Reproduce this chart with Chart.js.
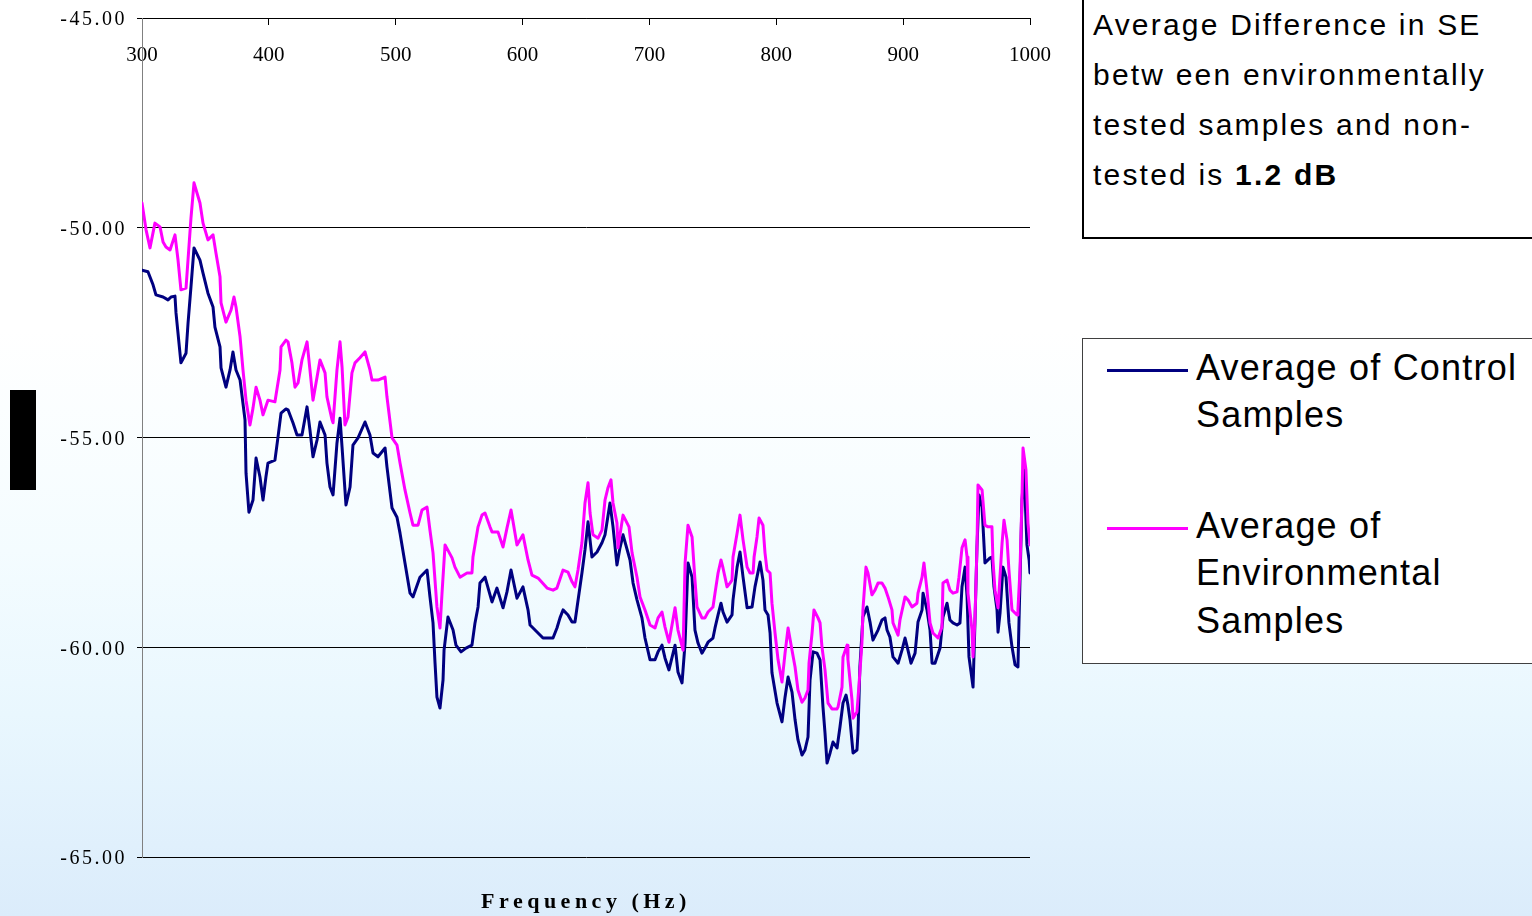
<!DOCTYPE html>
<html>
<head>
<meta charset="utf-8">
<title>Average Control vs Environmental Samples</title>
<script src="https://cdn.jsdelivr.net/npm/chart.js@4/dist/chart.umd.min.js"></script>
<style>
  html, body { margin: 0; padding: 0; }
  #frame {
    position: relative;
    width: 1532px;
    height: 916px;
    overflow: hidden;
    background: linear-gradient(to bottom, #ffffff 0%, #ffffff 36%, #f4fcff 60%, #e9f7fe 78%, #dbecfb 100%);
    font-family: "Liberation Sans", Arial, sans-serif;
  }
  #chart { position: absolute; left: 0; top: 0; }
  #axisBlock {
    position: absolute; left: 10px; top: 390px; width: 26px; height: 100px; background: #000;
  }
  #note {
    position: absolute; left: 1082px; top: -10px; width: 470px; height: 249px;
    box-sizing: border-box; border: 2px solid #000; background: #fff;
    padding: 8px 0 0 9px; font-size: 30px; line-height: 50px; letter-spacing: 2.2px; color: #000;
    white-space: nowrap;
  }
  #legend {
    position: absolute; left: 1082px; top: 338px; width: 470px; height: 326px;
    box-sizing: border-box; border: 1px solid #404040; background: #fff;
  }
  .swatch { position: absolute; left: 24px; width: 81px; height: 3px; }
  .entry-text {
    position: absolute; left: 113px; width: 335px; font-size: 36px; line-height: 47.5px;
    letter-spacing: 1.2px; color: #000;
  }
</style>
</head>
<body>
<div id="frame">
  <canvas id="chart" width="1532" height="916"></canvas>
  <div id="axisBlock"></div>
  <div id="note">Average Difference in SE<br>betw een environmentally<br>tested samples and non-<br>tested is <b>1.2 dB</b></div>
  <div id="legend"></div>
</div>
<script>
// Frequency axis and shielding-effectiveness scale
const freqTicks = [300, 400, 500, 600, 700, 800, 900, 1000];
const dbTicks = [-65, -60, -55, -50, -45];

const seriesNames = ['Average of Control Samples', 'Average of Environmental Samples'];
const seriesColors = ['#000080', '#ff00ff'];

// Average of Control Samples: frequency (Hz) / level (dB)
const controlFreq = [
  300, 304.7, 308.7, 311.0, 316.6, 320.5, 322.9, 326.0, 326.8, 330.7,
  334.7, 336.3, 338.6, 341.0, 345.7, 348.1, 352.0, 356.0, 357.5, 361.5,
  362.3, 366.2, 369.4, 371.7, 374.1, 377.3, 381.2, 382.0, 384.3, 387.5,
  389.9, 393.0, 395.4, 397.7, 399.3, 404.8, 407.2, 409.6, 413.5, 415.1,
  419.0, 422.2, 426.1, 430.1, 432.4, 434.8, 438.0, 440.3, 444.3, 445.8,
  448.2, 450.6, 453.7, 456.1, 457.7, 460.8, 464.0, 466.3, 470.3, 475.8,
  479.7, 482.1, 486.0, 491.6, 493.1, 497.1, 501.0, 503.4, 507.3, 511.3,
  513.6, 519.1, 524.7, 527.0, 529.4, 531.0, 532.5, 534.9, 537.3, 538.1,
  541.2, 545.2, 547.5, 551.5, 555.4, 560.1, 562.5, 564.9, 566.4, 570.4,
  575.9, 579.8, 584.6, 587.7, 590.9, 595.6, 600.3, 604.3, 605.9, 616.1,
  624.0, 627.1, 629.5, 631.9, 635.8, 639.0, 641.3, 642.9, 646.8, 649.2,
  651.6, 654.7, 658.7, 662.6, 665.0, 668.9, 671.3, 674.4, 676.8, 679.2,
  684.7, 687.1, 690.2, 694.1, 696.5, 700.5, 704.4, 706.8, 709.9, 712.3,
  715.4, 720.2, 722.5, 725.7, 728.1, 730.4, 733.6, 735.9, 738.3, 741.4,
  743.8, 746.2, 750.1, 751.7, 754.1, 756.4, 758.0, 761.2, 765.1, 765.9,
  769.1, 771.4, 773.8, 777.0, 780.9, 783.2, 787.2, 789.5, 791.1, 793.5,
  795.1, 796.6, 800.6, 804.5, 806.9, 809.3, 812.4, 814.8, 817.1, 820.3,
  822.6, 825.0, 826.6, 829.0, 832.1, 834.5, 836.8, 838.4, 840.0, 842.4,
  844.7, 847.9, 850.2, 852.6, 855.0, 856.5, 858.1, 860.5, 863.6, 864.4,
  865.9, 868.3, 871.5, 873.9, 876.2, 880.2, 883.3, 885.7, 887.3, 889.6,
  892.0, 896.0, 899.1, 901.5, 903.8, 906.2, 909.4, 911.7, 914.9, 915.7,
  918.8, 921.2, 922.8, 925.1, 929.1, 931.4, 934.6, 936.9, 939.3, 942.5,
  944.8, 946.4, 948.8, 950.4, 951.9, 955.1, 956.6, 958.2, 959.8, 962.2,
  964.5, 968.5, 970.0, 971.6, 974.0, 974.8, 976.4, 978.7, 981.1, 983.4,
  985.8, 988.2, 990.5, 991.3, 993.7, 995.3, 997.6, 999.3, 1000
];
const controlDb = [
  -51.01, -51.05, -51.36, -51.60, -51.65, -51.72, -51.65, -51.63, -52.03, -53.22,
  -52.99, -52.27, -51.41, -50.48, -50.77, -51.08, -51.56, -51.89, -52.37, -52.84,
  -53.34, -53.80, -53.39, -52.96, -53.39, -53.63, -54.58, -55.85, -56.78, -56.49,
  -55.49, -55.94, -56.49, -55.94, -55.61, -55.54, -54.99, -54.42, -54.32, -54.34,
  -54.65, -54.94, -54.94, -54.27, -54.82, -55.46, -55.06, -54.63, -54.94, -55.61,
  -56.18, -56.37, -55.13, -54.54, -55.23, -56.61, -56.18, -55.18, -55.01, -54.63,
  -54.94, -55.37, -55.46, -55.25, -55.70, -56.68, -56.90, -57.28, -57.99, -58.71,
  -58.80, -58.33, -58.16, -58.80, -59.42, -60.38, -61.19, -61.45, -60.78, -60.07,
  -59.28, -59.59, -59.95, -60.11, -60.02, -59.95, -59.42, -59.04, -58.47, -58.33,
  -58.92, -58.59, -59.06, -58.68, -58.16, -58.83, -58.56, -59.11, -59.47, -59.78,
  -59.78, -59.54, -59.30, -59.11, -59.23, -59.40, -59.40, -59.06, -58.23, -57.68,
  -57.01, -57.85, -57.73, -57.51, -57.32, -56.56, -57.13, -58.04, -57.63, -57.32,
  -57.92, -58.47, -58.87, -59.30, -59.78, -60.30, -60.30, -60.11, -59.95, -60.26,
  -60.54, -59.95, -60.59, -60.85, -59.90, -57.99, -58.33, -59.59, -59.90, -60.14,
  -60.02, -59.88, -59.78, -59.54, -59.23, -58.95, -59.16, -59.40, -59.23, -58.87,
  -58.09, -57.73, -58.33, -59.06, -59.04, -58.56, -57.97, -58.40, -59.11, -59.23,
  -59.66, -60.61, -61.33, -61.78, -61.19, -60.71, -61.07, -61.73, -62.21, -62.57,
  -62.45, -62.14, -60.78, -60.11, -60.14, -60.30, -61.42, -62.04, -62.76, -62.52,
  -62.26, -62.40, -61.90, -61.33, -61.14, -61.38, -61.73, -62.52, -62.45, -62.04,
  -60.47, -59.28, -59.04, -59.40, -59.83, -59.59, -59.35, -59.30, -59.59, -59.76,
  -60.23, -60.38, -60.07, -59.78, -60.07, -60.38, -60.14, -59.40, -59.11, -58.71,
  -59.11, -59.59, -60.38, -60.38, -60.02, -59.28, -58.95, -59.35, -59.42, -59.47,
  -59.42, -58.56, -58.09, -58.80, -60.23, -60.95, -59.42, -57.61, -56.37, -56.66,
  -57.99, -57.87, -57.85, -58.56, -59.11, -59.64, -59.18, -58.09, -58.33, -59.42,
  -59.99, -60.42, -60.47, -59.42, -56.49, -55.77, -57.56, -57.92, -58.23
];

// Average of Environmental Samples: frequency (Hz) / level (dB)
const envFreq = [
  300, 303.2, 306.3, 310.2, 314.2, 316.6, 318.9, 322.1, 326.0, 328.4,
  330.7, 334.7, 338.6, 341.0, 345.7, 348.1, 352.0, 356.0, 358.3, 361.5,
  362.3, 366.2, 370.2, 372.5, 374.1, 377.3, 379.6, 382.0, 385.1, 387.5,
  389.9, 393.0, 395.4, 399.3, 404.8, 408.8, 409.6, 413.5, 415.1, 418.2,
  420.6, 423.0, 426.1, 430.1, 432.4, 434.8, 438.0, 440.3, 444.3, 445.8,
  449.8, 450.6, 453.7, 456.1, 457.7, 460.0, 462.4, 465.5, 467.9, 471.8,
  475.8, 479.7, 481.3, 486.0, 491.6, 493.1, 497.1, 501.0, 503.4, 507.3,
  511.3, 513.6, 517.6, 520.7, 524.7, 527.0, 529.4, 532.5, 534.9, 536.5,
  538.9, 544.4, 546.7, 550.7, 556.2, 560.1, 560.9, 564.9, 568.0, 570.4,
  574.3, 575.9, 580.6, 584.6, 587.7, 590.9, 592.5, 595.6, 600.3, 604.3,
  607.4, 612.2, 619.3, 624.0, 627.1, 631.9, 635.8, 639.0, 641.3, 643.7,
  646.8, 649.2, 651.6, 653.2, 655.5, 659.5, 662.6, 665.0, 667.3, 669.7,
  671.3, 674.4, 675.2, 679.2, 683.9, 686.3, 690.2, 692.6, 696.5, 700.5,
  704.4, 706.8, 709.9, 712.3, 715.4, 720.2, 722.5, 726.5, 728.1, 730.4,
  733.6, 735.9, 737.5, 741.4, 743.8, 746.2, 750.1, 751.7, 754.1, 756.4,
  758.0, 761.2, 763.5, 765.1, 765.9, 769.1, 771.4, 773.8, 777.0, 779.3,
  781.7, 782.5, 784.8, 786.4, 789.5, 791.1, 792.7, 795.1, 796.6, 799.0,
  801.4, 804.5, 806.9, 809.3, 812.4, 814.8, 817.1, 820.3, 822.6, 825.0,
  825.8, 828.2, 829.7, 832.9, 834.5, 836.0, 838.4, 840.8, 843.9, 847.9,
  848.7, 851.8, 852.6, 855.8, 856.5, 859.7, 860.5, 863.6, 865.2, 867.5,
  868.3, 870.7, 872.3, 875.4, 877.8, 880.2, 883.3, 885.7, 888.1, 891.2,
  892.0, 896.0, 897.5, 901.5, 903.8, 907.0, 910.9, 911.7, 914.9, 916.4,
  918.8, 921.2, 923.5, 927.5, 930.6, 931.4, 934.6, 936.9, 939.3, 942.5,
  944.0, 946.4, 948.8, 950.4, 951.1, 954.3, 955.1, 956.6, 958.2, 959.0,
  962.2, 964.5, 966.9, 970.0, 970.8, 972.4, 974.8, 978.0, 979.5, 981.9,
  983.4, 985.8, 989.8, 990.5, 992.1, 993.7, 994.5, 996.8, 998.4, 1000
];
const envDb = [
  -49.41, -50.05, -50.48, -49.89, -49.98, -50.34, -50.46, -50.53, -50.17, -50.77,
  -51.48, -51.44, -49.77, -48.93, -49.41, -49.89, -50.29, -50.17, -50.60, -51.17,
  -51.79, -52.25, -51.96, -51.65, -51.89, -52.60, -53.39, -54.11, -54.70, -54.30,
  -53.80, -54.11, -54.46, -54.11, -54.15, -53.39, -52.84, -52.68, -52.72, -53.22,
  -53.80, -53.70, -53.15, -52.72, -53.39, -54.11, -53.56, -53.15, -53.46, -54.03,
  -54.58, -54.65, -53.39, -52.72, -53.32, -54.70, -54.51, -53.46, -53.22, -53.10,
  -52.96, -53.39, -53.63, -53.63, -53.56, -54.03, -55.01, -55.18, -55.61, -56.25,
  -56.80, -57.09, -57.09, -56.73, -56.66, -57.21, -57.75, -59.04, -59.54, -58.71,
  -57.56, -57.87, -58.09, -58.33, -58.23, -58.23, -57.85, -57.13, -56.85, -56.80,
  -57.13, -57.25, -57.25, -57.61, -57.16, -56.73, -57.01, -57.56, -57.32, -57.92,
  -58.28, -58.35, -58.59, -58.64, -58.59, -58.16, -58.21, -58.44, -58.56, -58.16,
  -57.51, -56.56, -56.08, -56.80, -57.32, -57.40, -57.21, -56.49, -56.20, -56.01,
  -56.56, -57.04, -57.63, -56.85, -57.13, -57.75, -58.33, -58.80, -59.11, -59.47,
  -59.54, -59.30, -59.16, -59.52, -59.88, -59.06, -59.59, -60.07, -57.99, -57.09,
  -57.37, -58.40, -59.04, -59.30, -59.30, -59.16, -59.04, -58.71, -58.23, -57.92,
  -58.11, -58.56, -58.47, -58.40, -57.85, -57.28, -56.85, -57.44, -58.09, -58.23,
  -58.23, -57.85, -57.37, -56.92, -57.09, -57.75, -58.16, -58.23, -58.95, -59.66,
  -60.30, -60.83, -60.14, -59.54, -60.07, -60.47, -61.02, -61.31, -61.21, -61.02,
  -60.38, -59.66, -59.11, -59.30, -59.42, -59.99, -60.54, -61.33, -61.47, -61.47,
  -61.42, -60.95, -60.23, -59.95, -60.30, -61.26, -61.69, -61.54, -60.90, -59.90,
  -59.11, -58.09, -58.23, -58.75, -58.64, -58.47, -58.47, -58.59, -58.80, -59.11,
  -59.42, -59.71, -59.35, -58.80, -58.87, -59.04, -58.95, -58.71, -58.33, -57.99,
  -58.64, -59.42, -59.66, -59.78, -59.52, -58.47, -58.40, -58.64, -58.71, -58.68,
  -58.33, -57.63, -57.44, -57.85, -58.71, -59.59, -60.23, -59.35, -57.61, -56.13,
  -56.25, -57.09, -57.13, -57.13, -57.92, -58.64, -59.06, -57.51, -56.97, -57.44,
  -58.16, -59.11, -59.23, -59.11, -58.16, -56.42, -55.25, -55.77, -57.04, -57.56
];

const toPoints = (xs, ys) => xs.map((x, i) => ({ x, y: ys[i] }));

// Chart.js has no letter-spacing option, so wrap the draw calls of the
// parts whose text is set with extra tracking.
function withSpacing(obj, method, spacing) {
  if (!obj || obj['__spaced_' + method]) return;
  const original = obj[method];
  obj[method] = function (...args) {
    const ctx = this.ctx;
    const prev = ctx.letterSpacing;
    ctx.letterSpacing = spacing;
    try { return original.apply(this, args); }
    finally { ctx.letterSpacing = prev || '0px'; }
  };
  obj['__spaced_' + method] = true;
}
const trackingPlugin = {
  id: 'tracking',
  afterLayout(chart) {
    withSpacing(chart.scales.y, 'drawLabels', '2.5px');
    withSpacing(chart.titleBlock, 'draw', '4.5px');
  }
};

const serif = '"Liberation Serif", "Times New Roman", serif';

const chart = new Chart(document.getElementById('chart'), {
  type: 'line',
  data: {
    datasets: [
      {
        label: seriesNames[0],
        data: toPoints(controlFreq, controlDb),
        borderColor: seriesColors[0],
        backgroundColor: seriesColors[0],
        order: 2
      },
      {
        label: seriesNames[1],
        data: toPoints(envFreq, envDb),
        borderColor: seriesColors[1],
        backgroundColor: seriesColors[1],
        order: 1
      }
    ]
  },
  options: {
    responsive: false,
    animation: false,
    devicePixelRatio: 1,
    layout: { padding: { left: 0, top: 18, right: 502, bottom: 0 } },
    elements: {
      line: { borderWidth: 3, tension: 0, borderJoinStyle: 'round', borderCapStyle: 'round' },
      point: { radius: 0, hoverRadius: 0 }
    },
    plugins: {
      legend: { display: false },
      tooltip: { enabled: false },
      title: {
        display: true,
        text: 'Frequency (Hz)',
        position: 'bottom',
        fullSize: false,
        color: '#000',
        font: { family: serif, size: 22, weight: 'bold' },
        padding: { top: 32.6, bottom: 0 }
      }
    },
    scales: {
      x: {
        type: 'linear',
        position: { y: dbTicks[dbTicks.length - 1] },
        min: freqTicks[0],
        max: freqTicks[freqTicks.length - 1],
        afterBuildTicks: s => { s.ticks = freqTicks.map(v => ({ value: v })); },
        ticks: {
          color: '#000',
          font: { family: serif, size: 21 },
          padding: 19,
          maxRotation: 0,
          autoSkip: false,
          callback: v => String(v)
        },
        grid: { drawOnChartArea: false, drawTicks: true, tickLength: 6, color: '#000' },
        border: { color: '#000', width: 1 }
      },
      y: {
        min: dbTicks[0],
        max: dbTicks[dbTicks.length - 1],
        afterBuildTicks: s => { s.ticks = dbTicks.map(v => ({ value: v })); },
        afterFit: s => { s.width = 142; s.paddingTop = 0; s.paddingBottom = 0; },
        ticks: {
          color: '#000',
          font: { family: serif, size: 20 },
          padding: 10,
          labelOffset: 2,
          callback: v => Number(v).toFixed(2)
        },
        grid: { color: '#000', lineWidth: 1, drawTicks: true, tickLength: 5 },
        border: { color: '#808080', width: 1 }
      }
    }
  },
  plugins: [trackingPlugin]
});
chart.draw();

// Legend box built from the chart's own datasets
const legendTops = [4.5, 162.5];
const legendLineY = [31, 189];
const legend = document.getElementById('legend');
chart.data.datasets.forEach((ds, i) => {
  const sw = document.createElement('div');
  sw.className = 'swatch';
  sw.style.top = (legendLineY[i] - 1.5) + 'px';
  sw.style.background = ds.borderColor;
  legend.appendChild(sw);
  const tx = document.createElement('div');
  tx.className = 'entry-text';
  tx.style.top = legendTops[i] + 'px';
  tx.textContent = ds.label;
  legend.appendChild(tx);
});
</script>
</body>
</html>
